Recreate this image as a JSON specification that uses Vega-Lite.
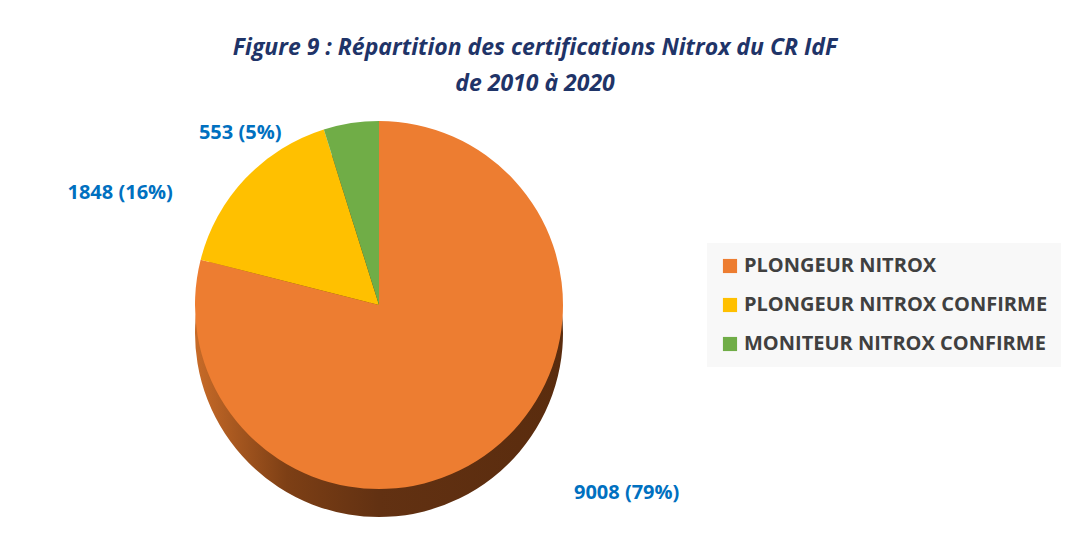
{
  "$schema": "https://vega.github.io/schema/vega-lite/v6.json",
  "width": 758,
  "height": 410,
  "autosize": {"type": "none"},
  "padding": {"left": 0, "top": 100, "right": 328, "bottom": 24},
  "background": "white",
  "title": {
    "text": ["Figure 9 : Répartition des certifications Nitrox du CR IdF", "de 2010 à 2020"],
    "font": "Open Sans",
    "fontSize": 23,
    "fontWeight": "bold",
    "fontStyle": "italic",
    "color": "#1F3468",
    "anchor": "middle",
    "frame": "group",
    "dx": 156,
    "lineHeight": 36,
    "offset": 4
  },
  "config": {
    "view": {"stroke": null},
    "legend": {
      "orient": "none",
      "legendX": 707,
      "legendY": 143,
      "fillColor": "#f8f8f8",
      "padding": 13,
      "symbolType": "square",
      "symbolSize": 200,
      "symbolStrokeWidth": 0,
      "labelFont": "Open Sans",
      "labelFontSize": 20,
      "labelFontWeight": "bold",
      "labelColor": "#404040",
      "rowPadding": 19,
      "labelLimit": 400,
      "title": null
    }
  },
  "data": {
    "values": [
      {"cat": "PLONGEUR NITROX", "value": 9008, "order": 1, "label": "9008 (79%)"},
      {"cat": "PLONGEUR NITROX CONFIRME", "value": 1848, "order": 2, "label": "1848 (16%)"},
      {"cat": "MONITEUR NITROX CONFIRME", "value": 553, "order": 3, "label": "553 (5%)"}
    ]
  },
  "encoding": {
    "theta": {"field": "value", "type": "quantitative", "stack": true},
    "order": {"field": "order", "type": "quantitative"}
  },
  "layer": [
    {
      "mark": {
        "type": "arc",
        "outerRadius": 184,
        "yOffset": 28,
        "stroke": null,
        "fill": {
          "gradient": "linear",
          "x1": 0, "x2": 1, "y1": 0, "y2": 0,
          "stops": [
            {"offset": 0, "color": "#c86b28"},
            {"offset": 0.25, "color": "#7d3f15"},
            {"offset": 0.5, "color": "#623112"},
            {"offset": 1, "color": "#5a2c0e"}
          ]
        }
      }
    },
    {
      "mark": {"type": "arc", "outerRadius": 184, "stroke": null},
      "encoding": {
        "color": {
          "field": "cat",
          "type": "nominal",
          "scale": {
            "domain": ["PLONGEUR NITROX", "PLONGEUR NITROX CONFIRME", "MONITEUR NITROX CONFIRME"],
            "range": ["#ED7D31", "#FFC000", "#70AD47"]
          },
          "legend": {}
        }
      }
    },
    {
      "mark": {
        "type": "text",
        "radius": {"expr": "datum.order == 1 ? 311 : datum.order == 2 ? 282 : 221"},
        "thetaOffset": {"expr": "datum.order == 1 ? -0.26 : datum.order == 2 ? -0.349 : -0.527"},
        "font": "Open Sans",
        "fontWeight": "bold",
        "fontSize": 20,
        "color": "#0070C0"
      },
      "encoding": {
        "text": {"field": "label"}
      }
    }
  ]
}
